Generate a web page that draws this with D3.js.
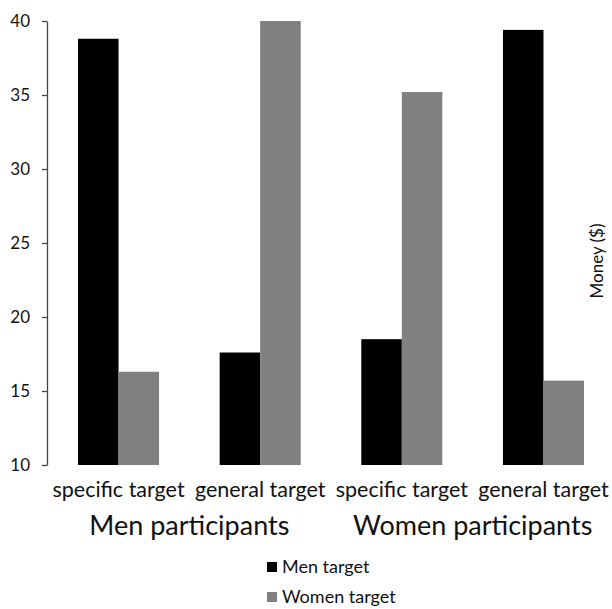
<!DOCTYPE html>
<html><head><meta charset="utf-8">
<script src="https://cdn.jsdelivr.net/npm/d3@7"></script>
<style>body{margin:0;background:#fff}svg{display:block;font-family:Lato,"Open Sans",sans-serif}</style>
</head><body><svg id="c" width="612" height="609"></svg>
<script>
const categories = ["specific target","general target","specific target","general target"];
const groups = ["Men participants","Women participants"];
const series = ["Men target","Women target"];
const menTarget = [38.8, 17.6, 18.5, 39.4];
const womenTarget = [16.3, 40.0, 35.2, 15.7];
const yTicks = [10,15,20,25,30,35,40];
const colors = ["#000000","#808080"];

const svg = d3.select("#c");
const x = d3.scaleBand().domain(d3.range(categories.length)).range([47,615]).paddingInner(0.428).paddingOuter(0.219);
const xs = d3.scaleBand().domain(series).range([0,x.bandwidth()]);
const y = d3.scaleLinear().domain([10,40]).range([465,21]);

const data = [menTarget, womenTarget];
categories.forEach((c,i)=>{
  series.forEach((s,j)=>{
    svg.append("rect").attr("x",x(i)+xs(s)).attr("width",xs.bandwidth())
      .attr("y",y(data[j][i])).attr("height",y(10)-y(data[j][i])).attr("fill",colors[j]);
  });
});

const ax = svg.append("g").attr("transform","translate(47,0)")
  .call(d3.axisLeft(y).tickValues(yTicks).tickSize(5).tickPadding(12).tickSizeOuter(0));
ax.select(".domain").attr("stroke","#444").attr("stroke-width",1.3);
ax.selectAll(".tick line").attr("stroke","#444").attr("stroke-width",1.3);
ax.selectAll(".tick text").attr("font-size",17).attr("fill","#111").attr("font-family","Lato,sans-serif");

categories.forEach((c,i)=>{
  svg.append("text").attr("x",x(i)+x.bandwidth()/2).attr("y",497).attr("text-anchor","middle")
    .attr("font-size",21.5).attr("fill","#111").text(c);
});
groups.forEach((g,k)=>{
  const cx = (x(2*k)+x(2*k+1)+x.bandwidth())/2;
  svg.append("text").attr("x",cx).attr("y",535).attr("text-anchor","middle")
    .attr("font-size",27).attr("fill","#111").text(g);
});
svg.append("text").attr("transform","translate(603,261) rotate(-90)").attr("text-anchor","middle")
  .attr("font-size",17).attr("fill","#111").text("Money ($)");

series.forEach((s,j)=>{
  const ly = 573 + j*30;
  svg.append("rect").attr("x",267).attr("y",ly-11).attr("width",10).attr("height",10).attr("fill",colors[j]);
  svg.append("text").attr("x",282).attr("y",ly).attr("font-size",18).attr("fill","#111").text(s);
});
</script></body></html>
